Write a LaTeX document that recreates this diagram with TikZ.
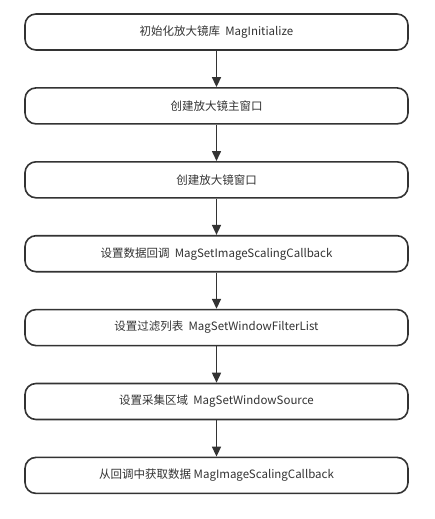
\documentclass[tikz,border=0pt]{standalone}
\usepackage{fontspec}
\setmainfont{Noto Sans CJK SC}
\usetikzlibrary{arrows.meta}
\definecolor{ink}{HTML}{333333}
\begin{document}
\begin{tikzpicture}[x=1pt,y=-1pt,
  stepbox/.style={draw=ink, line width=1.6pt, rounded corners=11pt, minimum width=383pt, minimum height=36pt, inner sep=0pt, text=ink, font=\fontsize{11.5}{13}\selectfont, fill=white},
  flow/.style={draw=ink, line width=1.6pt, -{Triangle[length=10pt,width=9pt]}}]
\useasboundingbox (0,0) rectangle (435,519);
\fill[white] (0,0) rectangle (435,519);
\node[stepbox] (s1) at (216.5,32) {初始化放大镜库\ \ MagInitialize};
\node[stepbox] (s2) at (216.5,105.9) {创建放大镜主窗口};
\node[stepbox] (s3) at (216.5,179.8) {创建放大镜窗口};
\node[stepbox] (s4) at (216.5,253.7) {设置数据回调\ \ MagSetImageScalingCallback};
\node[stepbox] (s5) at (216.5,327.6) {设置过滤列表\ \ MagSetWindowFilterList};
\node[stepbox] (s6) at (216.5,401.5) {设置采集区域\ \ MagSetWindowSource};
\node[stepbox] (s7) at (216.5,475.4) {从回调中获取数据 MagImageScalingCallback};
\foreach \a/\b in {s1/s2,s2/s3,s3/s4,s4/s5,s5/s6,s6/s7}
  \draw[flow] (\a.south) -- (\b.north);
\end{tikzpicture}
\end{document}
